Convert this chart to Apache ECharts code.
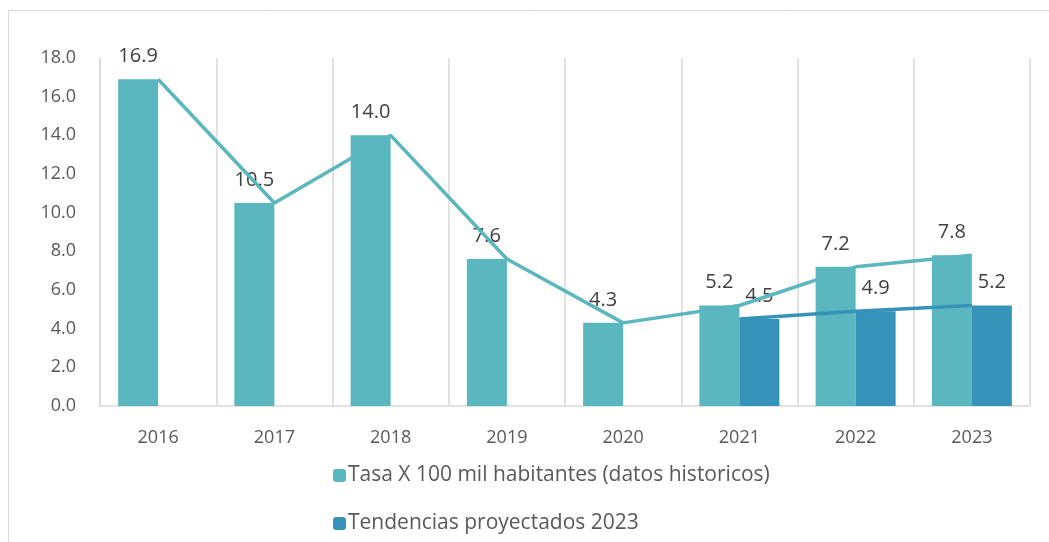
<!DOCTYPE html>
<html>
<head>
<meta charset="utf-8">
<script src="https://cdn.jsdelivr.net/npm/echarts@6/dist/echarts.min.js"></script>
<style>
  html, body { margin: 0; padding: 0; background: #fff; }
</style>
</head>
<body>
<!-- 图表容器 -->
<div id="container" style="width: 1049px;height:542px;"></div>
<script>
  var years = ['2016', '2017', '2018', '2019', '2020', '2021', '2022', '2023'];
  var historicos = [16.9, 10.5, 14.0, 7.6, 4.3, 5.2, 7.2, 7.8];
  var proyectados = [null, null, null, null, null, 4.5, 4.9, 5.2];
  var yTicks = [0, 2, 4, 6, 8, 10, 12, 14, 16, 18];

  var colorHist = '#5ab6bf';
  var colorProy = '#3593ba';
  var fontFam = '"Open Sans", Lato, sans-serif';

  var myChart = echarts.init(document.getElementById('container'));
  myChart.setOption({
    animation: false,
    textStyle: {fontFamily: fontFam},
    graphic: [{
      type: 'rect',
      shape: {x: 8.5, y: 10.5, width: 1100, height: 600},
      style: {fill: 'none', stroke: '#d9d9d9', lineWidth: 1},
      silent: true
    }],
    grid: {left: 100, right: 19, top: 58, bottom: 136},
    legend: {
      orient: 'vertical',
      left: 328,
      top: 460,
      itemGap: 27,
      itemWidth: 13,
      itemHeight: 13,
      data: ['Tasa X 100 mil habitantes (datos historicos)', 'Tendencias proyectados 2023'],
      textStyle: {fontSize: 21, color: '#595959', fontFamily: fontFam, padding: [0, 0, 0, -3]}
    },
    xAxis: {
      type: 'category',
      data: years,
      axisTick: {show: false},
      axisLine: {lineStyle: {color: '#d9d9d9', width: 1.5}},
      splitLine: {show: true, lineStyle: {color: '#d9d9d9', width: 1.5}},
      axisLabel: {fontSize: 18, color: '#595959', margin: 23}
    },
    yAxis: {
      type: 'value',
      min: yTicks[0],
      max: yTicks[yTicks.length - 1],
      interval: 2,
      axisLine: {show: true, lineStyle: {color: '#d9d9d9', width: 1.5}},
      axisTick: {show: false},
      splitLine: {show: false},
      axisLabel: {
        fontSize: 18, color: '#595959', margin: 24,
        formatter: function (v) { return v.toFixed(1); }
      }
    },
    series: [
      {
        name: 'Tasa X 100 mil habitantes (datos historicos)',
        type: 'bar',
        data: historicos,
        barWidth: 40,
        barGap: '0%',
        itemStyle: {color: colorHist},
        label: {
          show: true, position: 'top', distance: 13, fontSize: 20, color: '#404040',
          formatter: function (p) { return p.value.toFixed(1); }
        }
      },
      {
        name: 'Tendencias proyectados 2023',
        type: 'bar',
        data: proyectados,
        barWidth: 40,
        barGap: '0%',
        itemStyle: {color: colorProy},
        label: {
          show: true, position: 'top', distance: 13, fontSize: 20, color: '#404040',
          formatter: function (p) { return p.value == null ? '' : p.value.toFixed(1); }
        }
      },
      {
        name: 'lineaHist',
        type: 'line',
        data: historicos,
        symbol: 'none',
        lineStyle: {color: colorHist, width: 3.5},
        z: 3
      },
      {
        name: 'lineaProy',
        type: 'line',
        data: proyectados,
        symbol: 'none',
        lineStyle: {color: colorProy, width: 3.5},
        z: 3
      }
    ]
  });
</script>
</body>
</html>
